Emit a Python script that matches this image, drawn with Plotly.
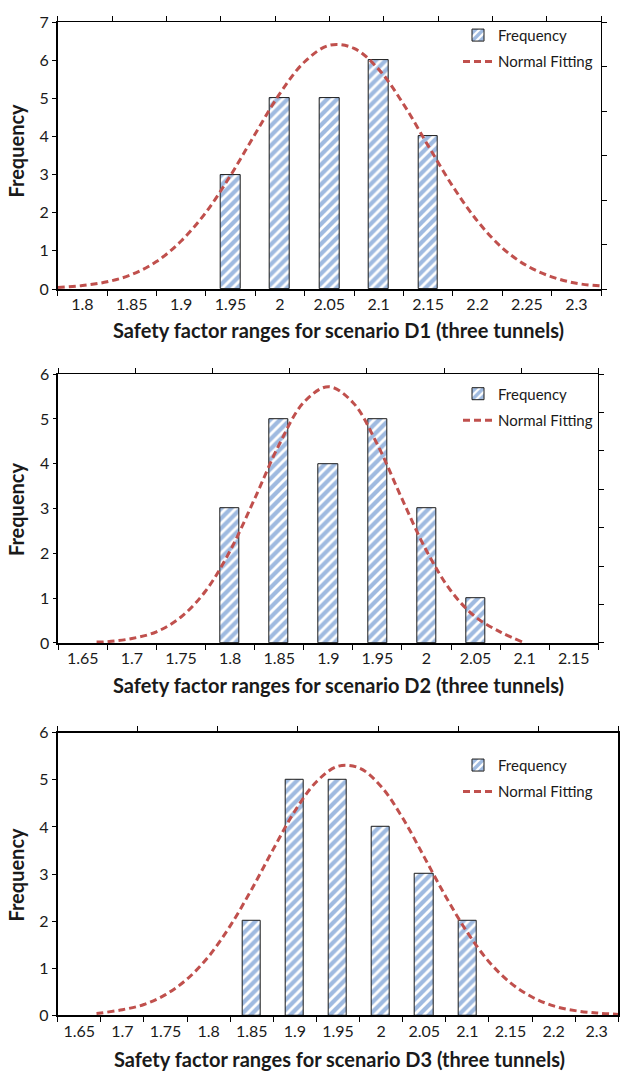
import plotly.graph_objects as go

# ---------------- data ----------------
# Scenario D1
d1_categories = ["1.8", "1.85", "1.9", "1.95", "2", "2.05", "2.1", "2.15", "2.2", "2.25", "2.3"]
d1_frequency = [0, 0, 0, 3, 5, 5, 6, 4, 0, 0, 0]
d1_fit_x = [1.775, 1.800, 1.825, 1.850, 1.875, 1.900, 1.925, 1.950, 1.975, 2.000, 2.025, 2.050,
            2.075, 2.100, 2.125, 2.150, 2.175, 2.200, 2.225, 2.250, 2.275, 2.300, 2.325]
d1_fit_y = [0.04, 0.09, 0.19, 0.38, 0.72, 1.26, 2.01, 2.98, 4.07, 5.13, 5.96, 6.39,
            6.31, 5.76, 4.85, 3.76, 2.69, 1.78, 1.08, 0.61, 0.32, 0.15, 0.08]

# Scenario D2
d2_categories = ["1.65", "1.7", "1.75", "1.8", "1.85", "1.9", "1.95", "2", "2.05", "2.1", "2.15"]
d2_frequency = [0, 0, 0, 3, 5, 4, 5, 3, 1, 0, 0]
d2_fit_x = [1.664, 1.675, 1.700, 1.725, 1.750, 1.775, 1.800, 1.825, 1.850, 1.875, 1.900,
            1.925, 1.950, 1.975, 2.000, 2.025, 2.050, 2.075, 2.098]
d2_fit_y = [0.02, 0.03, 0.10, 0.25, 0.58, 1.16, 2.06, 3.22, 4.43, 5.37, 5.72,
            5.37, 4.43, 3.22, 2.06, 1.16, 0.58, 0.25, 0.02]

# Scenario D3
d3_categories = ["1.65", "1.7", "1.75", "1.8", "1.85", "1.9", "1.95", "2", "2.05", "2.1", "2.15", "2.2", "2.3"]
d3_frequency = [0, 0, 0, 0, 2, 5, 5, 4, 3, 2, 0, 0, 0]
d3_fit_x = [1.670, 1.675, 1.700, 1.725, 1.750, 1.775, 1.800, 1.825, 1.850, 1.875, 1.900, 1.925,
            1.950, 1.975, 2.000, 2.025, 2.050, 2.075, 2.100, 2.125, 2.150, 2.175, 2.200, 2.225,
            2.250, 2.275]
d3_fit_y = [0.04, 0.05, 0.12, 0.23, 0.44, 0.77, 1.25, 1.90, 2.68, 3.53, 4.34, 4.96,
            5.29, 5.25, 4.86, 4.19, 3.36, 2.52, 1.76, 1.14, 0.69, 0.39, 0.20, 0.10,
            0.05, 0.02]

x_titles = ["Safety factor ranges for scenario D1 (three tunnels)",
            "Safety factor ranges for scenario D2 (three tunnels)",
            "Safety factor ranges for scenario D3 (three tunnels)"]
y_title = "Frequency"
bar_name = "Frequency"
fit_name = "Normal Fitting"

# ---------------- style ----------------
W, H = 620, 1083
FONT = "Lato"
BLUE = "#3f76c2"
RED = "#c0504d"
TXT = "#1a1a1a"

panels = [
    dict(cats=d1_categories, freq=d1_frequency, fx=d1_fit_x, fy=d1_fit_y,
         px=(57.7, 601.0), py=(12.3, 284.0), ymax=7, right_div=6, top_div=10,
         x2range=(1.775, 2.325), bar_w=0.40, lw_main=1.5, lw_sec=1.2, right_ticks=True,
         legend_xy=(458, 9), xtitle_xy=(338, 326), ytitle_xy=(16, 143)),
    dict(cats=d2_categories, freq=d2_frequency, fx=d2_fit_x, fy=d2_fit_y,
         px=(58.3, 598.3), py=(370.7, 644.3), ymax=6, right_div=7, top_div=7,
         x2range=(1.625, 2.175), bar_w=0.39, lw_main=1.5, lw_sec=1.2, right_ticks=True,
         legend_xy=(458, 374), xtitle_xy=(338, 687), ytitle_xy=(16, 508)),
    dict(cats=d3_categories, freq=d3_frequency, fx=d3_fit_x, fy=d3_fit_y,
         px=(57.7, 618.3), py=(735.7, 1023.3), ymax=6, right_div=7, top_div=7,
         x2range=(1.625, 2.275), bar_w=0.42, lw_main=2, lw_sec=2, right_ticks=False,
         legend_xy=(458, 752), xtitle_xy=(339, 1068), ytitle_xy=(16, 880)),
]

fig = go.Figure()
layout = dict(width=W, height=H, margin=dict(l=0, r=0, t=0, b=0),
              paper_bgcolor="white", plot_bgcolor="white",
              font=dict(family=FONT, size=16, color=TXT),
              showlegend=True, annotations=[], bargap=0)

for i, p in enumerate(panels):
    n1 = 2 * i + 1
    n2 = 2 * i + 2
    xa, ya = f"x{'' if n1 == 1 else n1}", f"y{'' if n1 == 1 else n1}"
    xb, yb = f"x{n2}", f"y{n2}"
    leg = "legend" if i == 0 else f"legend{i + 1}"

    # empty classes carry no bar
    bar_vals = [v if v else None for v in p["freq"]]
    fig.add_trace(go.Bar(
        x=p["cats"], y=bar_vals, xaxis=xa, yaxis=ya, width=p["bar_w"],
        name=bar_name, legend=leg, legendgroup=f"bar{i}",
        marker=dict(color=BLUE, line=dict(color="#1a1a1a", width=1),
                    pattern=dict(shape="/", fgcolor=BLUE, bgcolor="white",
                                 size=7, solidity=0.6)),
        hoverinfo="skip"))
    fig.add_trace(go.Scatter(
        x=p["fx"], y=p["fy"], xaxis=xb, yaxis=yb, mode="lines",
        name=fit_name, legend=leg, legendgroup=f"fit{i}",
        line=dict(color=RED, width=3, dash="7px,4px", shape="spline"),
        hoverinfo="skip"))

    xd = [p["px"][0] / W, p["px"][1] / W]
    yd = [1 - p["py"][1] / H, 1 - p["py"][0] / H]
    n = len(p["cats"])
    common = dict(showgrid=False, zeroline=False, linecolor="black",
                  tickcolor="black", tickwidth=1, showline=True)

    layout[f"xaxis{'' if n1 == 1 else n1}"] = dict(
        domain=xd, anchor=ya, type="category", categoryorder="array",
        categoryarray=p["cats"], range=[-0.5, n - 0.5], tickson="boundaries",
        ticks="outside", ticklen=5, linewidth=p["lw_main"],
        tickfont=dict(family=FONT, size=16, color=TXT), **common)
    layout[f"yaxis{'' if n1 == 1 else n1}"] = dict(
        domain=yd, anchor=xa, range=[0, p["ymax"]], dtick=1, tick0=0,
        ticks="outside", ticklen=4, linewidth=p["lw_main"],
        tickfont=dict(family=FONT, size=16, color=TXT), **common)
    layout[f"xaxis{n2}"] = dict(
        overlaying=xa, side="top", anchor=ya, range=list(p["x2range"]),
        tickmode="linear", tick0=p["x2range"][0],
        dtick=(p["x2range"][1] - p["x2range"][0]) / p["top_div"],
        ticks="outside", ticklen=5, showticklabels=False, linewidth=p["lw_sec"], **common)
    layout[f"yaxis{n2}"] = dict(
        overlaying=ya, side="right", anchor=xa, range=[0, p["ymax"]],
        tickmode="linear", tick0=0, dtick=p["ymax"] / p["right_div"],
        ticks="outside" if p["right_ticks"] else "", ticklen=5,
        showticklabels=False, linewidth=p["lw_sec"], **common)

    layout[leg] = dict(x=p["legend_xy"][0] / W, y=1 - p["legend_xy"][1] / H,
                       xanchor="left", yanchor="top", bgcolor="rgba(0,0,0,0)",
                       font=dict(family=FONT, size=15, color=TXT),
                       traceorder="grouped", tracegroupgap=4)

    layout["annotations"].append(dict(
        text=f"<b>{x_titles[i]}</b>", x=p["xtitle_xy"][0] / W, y=1 - p["xtitle_xy"][1] / H,
        xref="paper", yref="paper", xanchor="center", yanchor="middle", showarrow=False,
        font=dict(family=FONT, size=20, color=TXT)))
    layout["annotations"].append(dict(
        text=f"<b>{y_title}</b>", x=p["ytitle_xy"][0] / W, y=1 - p["ytitle_xy"][1] / H,
        xref="paper", yref="paper", xanchor="center", yanchor="middle", showarrow=False,
        textangle=-90, font=dict(family=FONT, size=20, color=TXT)))

fig.update_layout(**layout)
fig.write_html("out.html", config={"displayModeBar": False},
               post_script="document.body.style.margin='0';")
